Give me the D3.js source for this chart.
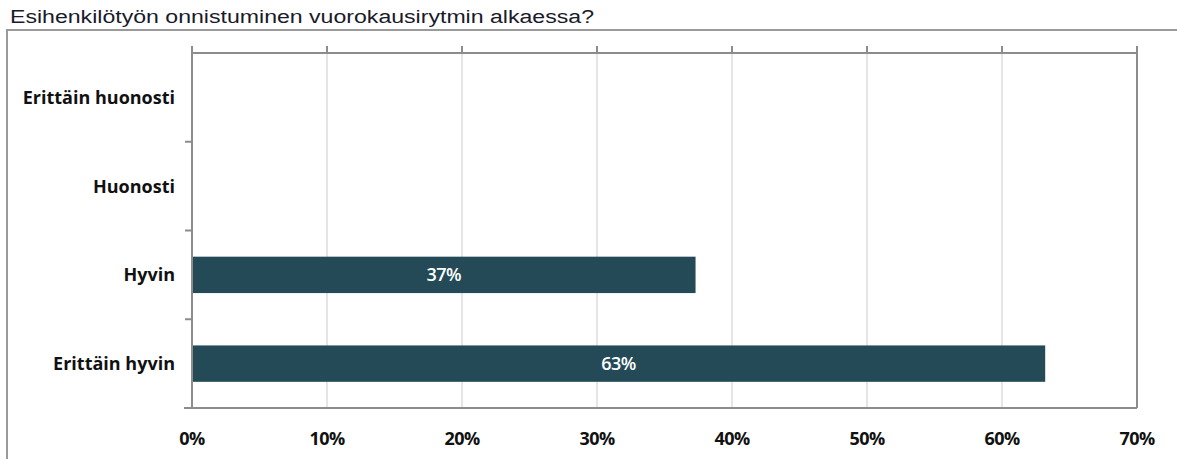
<!DOCTYPE html>
<html>
<head>
<meta charset="utf-8">
<script src="https://cdn.jsdelivr.net/npm/d3@7"></script>
<style>
  body { margin: 0; background: #fff; }
  .cat text, .xlab text { font-family: "Open Sans", sans-serif; font-weight: bold; fill: #111; }
</style>
</head>
<body>
<script>
var title = "Esihenkilötyön onnistuminen vuorokausirytmin alkaessa?";
var categories = ["Erittäin huonosti", "Huonosti", "Hyvin", "Erittäin hyvin"];
var values = [0, 0, 37.3, 63.2];
var xTicks = [0, 10, 20, 30, 40, 50, 60, 70];

var margin = {top: 53, right: 40, bottom: 51, left: 192},
    width = 1177,
    height = 459,
    innerW = 1137 - margin.left,
    innerH = 408 - margin.top;

var svg = d3.select("body").append("svg")
    .attr("width", width)
    .attr("height", height);

// outer frame
svg.append("path")
    .attr("d", "M7," + height + "V30H" + width)
    .attr("fill", "none")
    .attr("stroke", "#9a9a9a")
    .attr("stroke-width", 2);

svg.append("text")
    .attr("x", 10)
    .attr("y", 23)
    .attr("textLength", 584)
    .attr("lengthAdjust", "spacingAndGlyphs")
    .style("font-family", "Liberation Sans, Arial, sans-serif")
    .style("font-size", "18px")
    .style("fill", "#1a1a2a")
    .text(title);

var g = svg.append("g")
    .attr("transform", "translate(" + margin.left + "," + margin.top + ")");

var x = d3.scaleLinear()
    .domain([0, 70])
    .range([0, innerW]);

var y = d3.scaleBand()
    .domain(categories)
    .range([0, innerH])
    .paddingInner(0.59)
    .paddingOuter(0.295);

var yOuter = d3.scaleBand()
    .domain(categories)
    .range([0, innerH]);

// gridlines
g.selectAll(".grid")
    .data(xTicks.slice(1, -1))
  .enter().append("line")
    .attr("class", "grid")
    .attr("x1", function(d) { return x(d); })
    .attr("x2", function(d) { return x(d); })
    .attr("y1", 0)
    .attr("y2", innerH)
    .attr("stroke", "#dcdcdc")
    .attr("stroke-width", 1.5);

// top axis (ticks only)
g.append("line")
    .attr("x1", 0).attr("x2", innerW)
    .attr("y1", 0).attr("y2", 0)
    .attr("stroke", "#8c8c8c").attr("stroke-width", 2);
g.selectAll(".ttick")
    .data(xTicks)
  .enter().append("line")
    .attr("x1", function(d) { return x(d); })
    .attr("x2", function(d) { return x(d); })
    .attr("y1", -7).attr("y2", 0)
    .attr("stroke", "#8c8c8c").attr("stroke-width", 2);

// right border
g.append("line")
    .attr("x1", innerW).attr("x2", innerW)
    .attr("y1", -7).attr("y2", innerH)
    .attr("stroke", "#8c8c8c").attr("stroke-width", 2);

// bars
g.selectAll(".bar")
    .data(categories)
  .enter().append("rect")
    .attr("class", "bar")
    .attr("x", 0)
    .attr("y", function(d) { return y(d); })
    .attr("width", function(d, i) { return x(values[i]); })
    .attr("height", y.bandwidth())
    .attr("fill", "#234a56");

g.selectAll(".barlabel")
    .data(categories.filter(function(d, i) { return values[i] > 0; }))
  .enter().append("text")
    .attr("class", "barlabel")
    .attr("x", function(d) { return x(values[categories.indexOf(d)]) / 2; })
    .attr("y", function(d) { return y(d) + y.bandwidth() / 2; })
    .attr("dy", "0.36em")
    .attr("text-anchor", "middle")
    .style("font-family", "Open Sans, sans-serif")
    .style("font-size", "18px")
    .style("font-weight", "600")
    .style("letter-spacing", "-0.5px")
    .style("fill", "#fff")
    .text(function(d) { return Math.round(values[categories.indexOf(d)]) + "%"; });

// left axis with ticks between categories
g.append("line")
    .attr("x1", 0).attr("x2", 0)
    .attr("y1", 0).attr("y2", innerH)
    .attr("stroke", "#8c8c8c").attr("stroke-width", 2);
g.selectAll(".ytick")
    .data(categories.slice(1))
  .enter().append("line")
    .attr("x1", -7).attr("x2", 0)
    .attr("y1", function(d) { return yOuter(d); })
    .attr("y2", function(d) { return yOuter(d); })
    .attr("stroke", "#8c8c8c").attr("stroke-width", 2);

// bottom axis line
g.append("line")
    .attr("x1", -8).attr("x2", innerW)
    .attr("y1", innerH).attr("y2", innerH)
    .attr("stroke", "#8c8c8c").attr("stroke-width", 2);

var cat = g.append("g").attr("class", "cat");
cat.selectAll("text")
    .data(categories)
  .enter().append("text")
    .attr("x", -17)
    .attr("y", function(d) { return yOuter(d) + yOuter.bandwidth() / 2; })
    .attr("dy", "0.36em")
    .attr("text-anchor", "end")
    .style("font-size", "18px")
    .text(function(d) { return d; });

var xlab = g.append("g").attr("class", "xlab");
xlab.selectAll("text")
    .data(xTicks)
  .enter().append("text")
    .attr("x", function(d) { return x(d); })
    .attr("y", innerH + 37)
    .attr("text-anchor", "middle")
    .style("font-size", "18px")
    .style("letter-spacing", "-0.6px")
    .text(function(d) { return d + "%"; });
</script>
</body>
</html>
